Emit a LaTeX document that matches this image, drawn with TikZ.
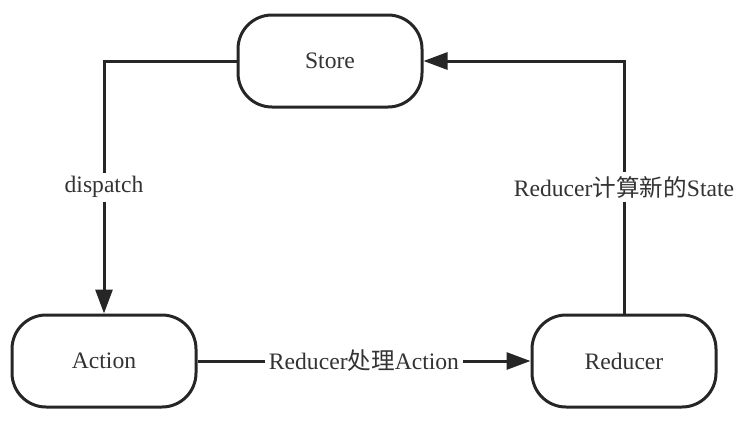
\documentclass[tikz,border=0pt]{standalone}
\usepackage{fontspec}
\setmainfont{Liberation Serif}
\newfontfamily\cjk{Noto Sans CJK SC}
\usetikzlibrary{positioning, arrows.meta, calc}

\begin{document}
\begin{tikzpicture}[x=0.5pt, y=-0.5pt, font=\fontsize{11.8}{14}\selectfont,
    zustand/.style={draw=black!85, line width=1.5pt, rounded corners=17pt,
        minimum width=92pt, minimum height=46pt, text=black!80},
    fluss/.style={draw=black!85, line width=1.5pt,
        -{Triangle[length=12pt, width=8.5pt]}},
    marke/.style={fill=white, text=black!80, inner sep=2pt}]

    % Rahmen (Bildgroesse in Pixeln)
    \useasboundingbox (0,0) rectangle (754,429);

    % --- Zustaende ---
    \node[zustand] (store)   at (330, 61)  {Store};
    \node[zustand] (action)  at (104, 361) {Action};
    \node[zustand] (reducer) at (624, 361) {Reducer};

    % --- Verbindungen ---
    \draw[fluss] (store.west) -| (action.north)
        node[marke, pos=0.75] {dispatch};
    \draw[fluss] (action.east) -- (reducer.west)
        node[marke, midway] {Reducer{\cjk 处理}Action};
    \draw[fluss] (reducer.north) |- (store.east)
        node[marke, pos=0.25] {Reducer{\cjk 计算新的}State};

\end{tikzpicture}
\end{document}
